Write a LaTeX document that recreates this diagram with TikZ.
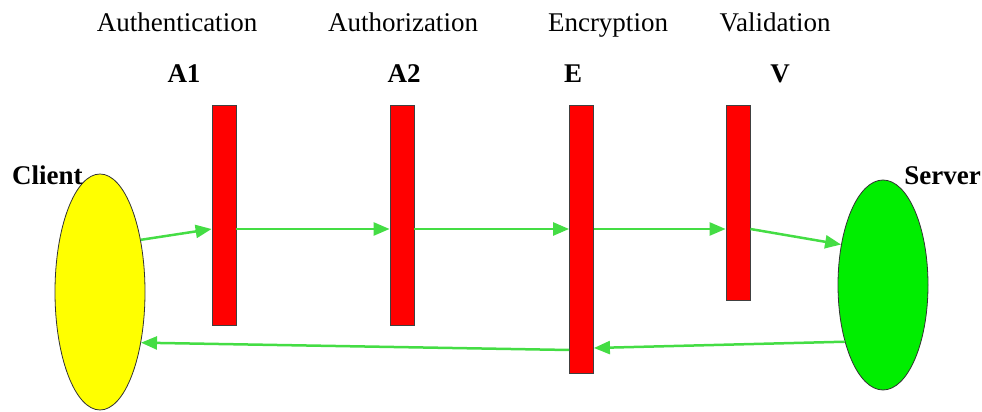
\documentclass[tikz,border=0pt]{standalone}
\usepackage{fontspec}
\setmainfont{Liberation Serif}
\usetikzlibrary{positioning, arrows.meta, shapes.geometric}
\definecolor{amar}{HTML}{FFFF00}
\definecolor{verde}{HTML}{00EE00}
\definecolor{verdec}{HTML}{44DD44}
\definecolor{rojo}{HTML}{FF0000}

\begin{document}
\begin{tikzpicture}[x=1pt, y=1pt,
        barra/.style={draw=black!75, line width=0.8pt, fill=rojo, minimum width=24pt, inner sep=0pt},
        elip/.style={ellipse, draw=black!80, line width=0.8pt, minimum width=90pt, inner sep=0pt},
        flecha/.style={verdec, line width=2.5pt, -{Triangle[length=16pt, width=13pt]}},
        etiq/.style={font=\rmfamily\fontsize{27}{30}\selectfont, anchor=base, inner sep=0pt},
        etiqb/.style={etiq, font=\rmfamily\fontsize{27}{30}\selectfont\bfseries}]
                \useasboundingbox (0,0) rectangle (982,412);
                % ends
                \node[elip, fill=amar, minimum height=236pt] (client) at (100,120) {};
                \node[elip, fill=verde, minimum height=210pt] (server) at (883,127) {};
                % barriers
                \node[barra, minimum height=220pt] (a1) at (224,197) {};
                \node[barra, minimum height=220pt] (a2) at (402,197) {};
                \node[barra, minimum height=268pt] (enc) at (581.5,173) {};
                \node[barra, minimum height=195pt] (val) at (738,209.5) {};
                % labels
                \node[etiq] (tauth) at (177,380) {Authentication};
                \node[etiq] (tautz) at (403,380) {Authorization};
                \node[etiq] (tenc) at (608,380) {Encryption};
                \node[etiq] (tval) at (775,380) {Validation};
                \node[etiqb] (la1) at (184,329) {A1};
                \node[etiqb] (la2) at (404,329) {A2};
                \node[etiqb] (lenc) at (573,329) {E};
                \node[etiqb] (lval) at (780,329) {V};
                \node[etiqb, anchor=base west] (lclient) at (12,227) {Client};
                \node[etiqb, anchor=base east] (lserver) at (981,227) {Server};
                % flow
                \coordinate (ida) at (0,183);
                \coordinate (vuelta1) at (0,64);
                \coordinate (vuelta2) at (0,62);
                \draw[flecha] (client.52) -- (a1.west |- ida);
                \draw[flecha] (a1.east |- ida) -- (a2.west |- ida);
                \draw[flecha] (a2.east |- ida) -- (enc.west |- ida);
                \draw[flecha] (enc.east |- ida) -- (val.west |- ida);
                \draw[flecha] (val.east |- ida) -- (server.136);
                \draw[flecha] (server.236) -- (enc.east |- vuelta1);
                \draw[flecha] (enc.west |- vuelta2) -- (client.309);
            \end{tikzpicture}
\end{document}
